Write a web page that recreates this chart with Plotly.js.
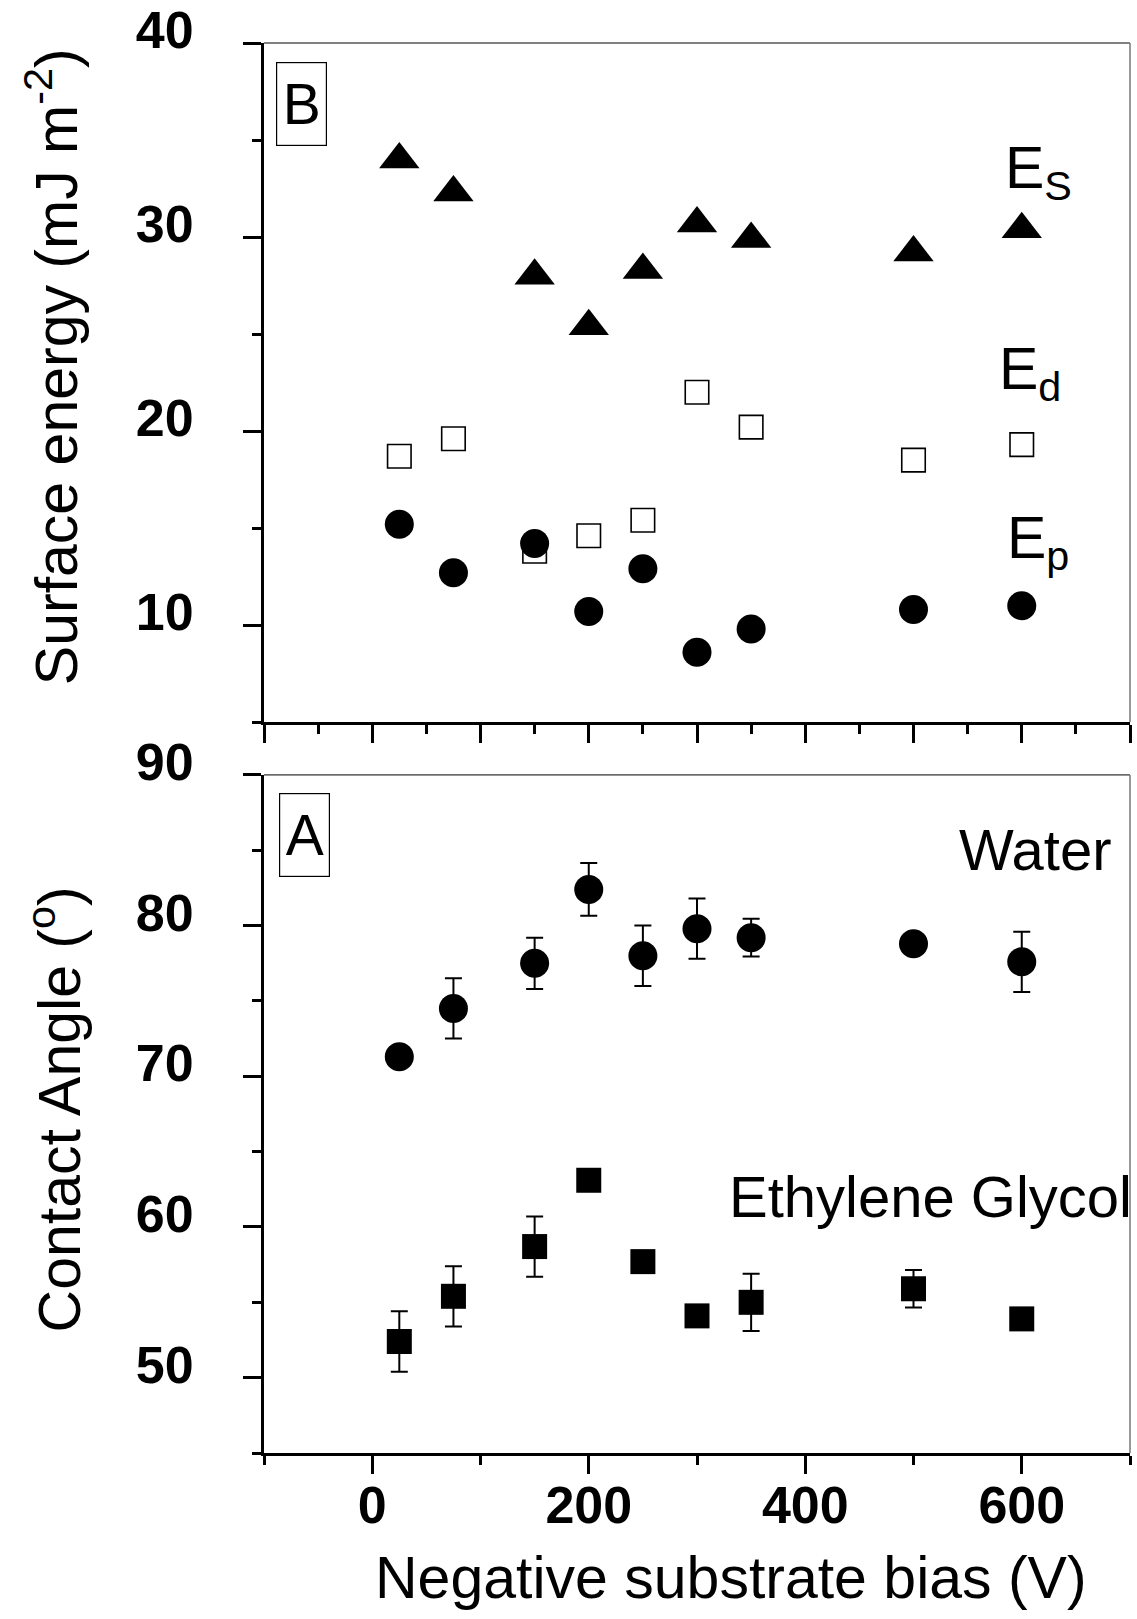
<!DOCTYPE html>
<html>
<head>
<meta charset="utf-8">
<script src="https://cdn.plot.ly/plotly-3.0.1.min.js"></script>
<style>
  html, body { margin: 0; padding: 0; background: #ffffff; }
  #chart { width: 1137px; height: 1619px; }
</style>
</head>
<body>
<div id="chart"></div>
<script>
// Substrate bias values (negative, in V) shared by both panels
const bias = [25, 75, 150, 200, 250, 300, 350, 500, 600];

// Panel B: surface energy components (mJ m^-2)
const energyTotal = [34.0, 32.3, 28.0, 25.4, 28.3, 30.7, 29.9, 29.2, 30.4];
const energyDispersive = [18.7, 19.6, 13.8, 14.6, 15.4, 22.0, 20.2, 18.5, 19.3];
const energyPolar = [15.2, 12.7, 14.2, 10.7, 12.9, 8.6, 9.8, 10.8, 11.0];

// Panel A: contact angles (degrees) with standard deviations
const angleWater = [71.3, 74.5, 77.5, 82.4, 78.0, 79.8, 79.2, 78.8, 77.6];
const errWater = [0, 2.0, 1.7, 1.75, 2.0, 2.0, 1.25, 0, 2.0];
const angleGlycol = [52.4, 55.4, 58.7, 63.1, 57.7, 54.1, 55.0, 55.9, 53.9];
const errGlycol = [2.0, 2.0, 2.0, 0, 0, 0, 1.9, 1.25, 0];

// Axis tick values
const xTicksBottom = [0, 200, 400, 600];
const yTicksTop = [10, 20, 30, 40];
const yTicksBottom = [50, 60, 70, 80, 90];

const FONT = 'Liberation Sans, Arial, sans-serif';
const black = '#000000';

const errStyle = (arr) => ({
  type: 'data', array: arr, visible: true,
  color: black, thickness: 2, width: 8.5
});

const traces = [
  {
    x: bias, y: energyTotal, xaxis: 'x', yaxis: 'y',
    mode: 'markers', type: 'scatter', name: 'Es',
    marker: { symbol: 'triangle-up', size: 35, color: black, line: { width: 0 } },
    cliponaxis: false
  },
  {
    x: bias, y: energyDispersive, xaxis: 'x', yaxis: 'y',
    mode: 'markers', type: 'scatter', name: 'Ed',
    marker: { symbol: 'square-open', size: 23.5, color: black, line: { width: 1.6, color: black } },
    cliponaxis: false
  },
  {
    x: bias, y: energyPolar, xaxis: 'x', yaxis: 'y',
    mode: 'markers', type: 'scatter', name: 'Ep',
    marker: { symbol: 'circle', size: 29, color: black, line: { width: 0 } },
    cliponaxis: false
  },
  {
    x: bias, y: angleWater, xaxis: 'x2', yaxis: 'y2',
    mode: 'markers', type: 'scatter', name: 'Water',
    error_y: errStyle(errWater),
    marker: { symbol: 'circle', size: 29, color: black, line: { width: 0 } },
    cliponaxis: false
  },
  {
    x: bias, y: angleGlycol, xaxis: 'x2', yaxis: 'y2',
    mode: 'markers', type: 'scatter', name: 'Ethylene Glycol',
    error_y: errStyle(errGlycol),
    marker: { symbol: 'square', size: 25, color: black, line: { width: 0 } },
    cliponaxis: false
  }
];

const tickFont = { family: FONT, size: 52, color: black, weight: 'bold' };

const baseX = {
  range: [-100, 700], showline: true, linewidth: 3, linecolor: black,
  ticks: 'outside', ticklen: 18, tickwidth: 3, tickcolor: black,
  showgrid: false, zeroline: false, fixedrange: true, automargin: false
};
const baseY = {
  showline: true, linewidth: 3, linecolor: black,
  ticks: 'outside', ticklen: 18, tickwidth: 3, tickcolor: black,
  showgrid: false, zeroline: false, fixedrange: true, automargin: false,
  tickfont: tickFont, ticklabelstandoff: 39, ticklabelshift: -13
};

const textFont = (size) => ({ family: FONT, size: size, color: black });

// Thin frame lines closing each panel at top and right
const frame = (xr, yr) => [
  { type: 'line', xref: xr + ' domain', yref: yr + ' domain', x0: 0, x1: 1, y0: 1, y1: 1,
    line: { color: black, width: 1 } },
  { type: 'line', xref: xr + ' domain', yref: yr + ' domain', x0: 1, x1: 1, y0: 0, y1: 1,
    line: { color: '#777777', width: 1.5 } }
];

const layout = {
  width: 1137, height: 1619,
  margin: { l: 264, r: 7, t: 43, b: 166, pad: 0 },
  paper_bgcolor: '#ffffff', plot_bgcolor: '#ffffff',
  showlegend: false,
  xaxis: Object.assign({}, baseX, {
    anchor: 'y', domain: [0, 1], tick0: 0, dtick: 100, showticklabels: false,
    minor: { ticks: 'outside', dtick: 50, tick0: 0, ticklen: 9, tickwidth: 3, tickcolor: black, showgrid: false }
  }),
  yaxis: Object.assign({}, baseY, {
    anchor: 'x', domain: [0.5184, 1], range: [5, 40],
    tickvals: yTicksTop, ticktext: yTicksTop.map(String),
    minor: { ticks: 'outside', dtick: 5, tick0: 0, ticklen: 9, tickwidth: 3, tickcolor: black, showgrid: false }
  }),
  xaxis2: Object.assign({}, baseX, {
    anchor: 'y2', domain: [0, 1],
    tickvals: xTicksBottom, ticktext: xTicksBottom.map(String),
    tickfont: tickFont, ticklabelstandoff: -13,
    minor: { ticks: 'outside', dtick: 100, tick0: 0, ticklen: 9, tickwidth: 3, tickcolor: black, showgrid: false }
  }),
  yaxis2: Object.assign({}, baseY, {
    anchor: 'x2', domain: [0, 0.4809], range: [45, 90],
    tickvals: yTicksBottom, ticktext: yTicksBottom.map(String),
    minor: { ticks: 'outside', dtick: 5, tick0: 0, ticklen: 9, tickwidth: 3, tickcolor: black, showgrid: false }
  }),
  shapes: frame('x', 'y').concat(frame('x2', 'y2')),
  annotations: [
    // Panel letters in boxes
    { text: 'B', xref: 'x domain', yref: 'y domain', x: 0.0433, y: 0.910,
      xanchor: 'center', yanchor: 'middle', showarrow: false,
      font: textFont(57), width: 49, height: 82, borderwidth: 1.2, bordercolor: black, borderpad: 0 },
    { text: 'A', xref: 'x2 domain', yref: 'y2 domain', x: 0.0467, y: 0.9108,
      xanchor: 'center', yanchor: 'middle', showarrow: false,
      font: textFont(57), width: 49, height: 82, borderwidth: 1.2, bordercolor: black, borderpad: 0 },
    // Series labels, panel B
    { text: 'E<sub>S</sub>', xref: 'x', yref: 'y', x: 582.8, y: 33.35,
      xanchor: 'left', yanchor: 'middle', showarrow: false, font: textFont(59) },
    { text: 'E<sub>d</sub>', xref: 'x', yref: 'y', x: 577.3, y: 23.0,
      xanchor: 'left', yanchor: 'middle', showarrow: false, font: textFont(59) },
    { text: 'E<sub>p</sub>', xref: 'x', yref: 'y', x: 584.6, y: 14.3,
      xanchor: 'left', yanchor: 'middle', showarrow: false, font: textFont(59) },
    // Series labels, panel A
    { text: 'Water', xref: 'x2', yref: 'y2', x: 612.7, y: 85.05,
      xanchor: 'center', yanchor: 'middle', showarrow: false, font: textFont(58) },
    { text: 'Ethylene Glycol', xref: 'x2', yref: 'y2', x: 327.5, y: 62.0,
      xanchor: 'left', yanchor: 'middle', showarrow: false, font: textFont(58) },
    // Axis titles
    { text: 'Surface energy (mJ m<sup>-2</sup>)', xref: 'paper', yref: 'paper',
      x: -0.244, y: 0.7706, xanchor: 'center', yanchor: 'middle', textangle: -90,
      showarrow: false, font: textFont(59) },
    { text: 'Contact Angle (<sup>o</sup>)', xref: 'paper', yref: 'paper',
      x: -0.241, y: 0.2439, xanchor: 'center', yanchor: 'middle', textangle: -90,
      showarrow: false, font: textFont(59) },
    { text: 'Negative substrate bias (V)', xref: 'paper', yref: 'paper',
      x: 0.5398, y: -0.0885, xanchor: 'center', yanchor: 'middle',
      showarrow: false, font: textFont(59) }
  ]
};

Plotly.newPlot('chart', traces, layout, { staticPlot: true, displayModeBar: false });
</script>
</body>
</html>
